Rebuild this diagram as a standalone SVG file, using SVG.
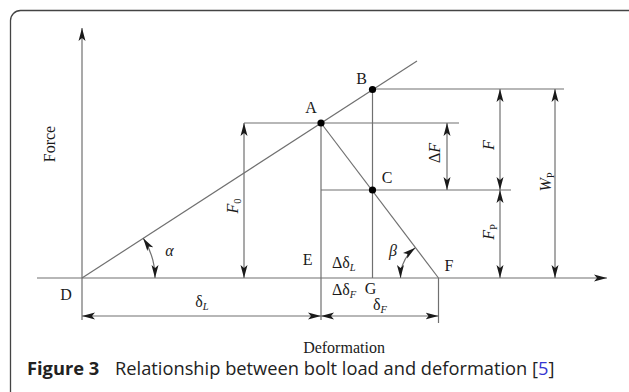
<svg xmlns="http://www.w3.org/2000/svg" width="629" height="392" viewBox="0 0 629 392">
<style>
.ln{stroke:#707070;stroke-width:1.2;fill:none}
.dim{stroke:#707070;stroke-width:1.2;fill:none;marker-start:url(#ah);marker-end:url(#ah)}
.t{font-family:"Liberation Serif","Times New Roman",serif;font-size:16px;fill:#1a1a1a}
.it{font-style:italic}
.ax{font-family:"Liberation Serif","Times New Roman",serif;font-size:16px;fill:#1a1a1a}
.cap{font-family:"Open Sans","Noto Sans",sans-serif;font-size:18.3px;fill:#222}
</style>
<defs>
<marker id="ah" viewBox="0 0 13 8" refX="13" refY="4" markerWidth="13" markerHeight="8" markerUnits="userSpaceOnUse" orient="auto-start-reverse">
<path d="M0,0.5 L13,4 L0,7.5 L3,4 Z" fill="#1a1a1a"/>
</marker>
<marker id="ae" viewBox="0 0 13 8" refX="13" refY="4" markerWidth="13" markerHeight="8" markerUnits="userSpaceOnUse" orient="auto">
<path d="M0,0.5 L13,4 L0,7.5 L3,4 Z" fill="#1a1a1a"/>
</marker>
</defs>
<rect x="10.5" y="10.5" width="628" height="400" rx="10" fill="#fff" stroke="#444" stroke-width="1.3"/>
<g id="connectors">
<line class="ln" x1="82" y1="320" x2="82" y2="28" marker-end="url(#ae)"/>
<line class="ln" x1="37" y1="278" x2="607" y2="278" marker-end="url(#ae)"/>
<line class="ln" x1="82" y1="278" x2="417" y2="61"/>
<line class="ln" x1="321" y1="123" x2="321" y2="320"/>
<line class="ln" x1="372.5" y1="89" x2="372.5" y2="278"/>
<line class="ln" x1="321" y1="123" x2="438.5" y2="278"/>
<line class="ln" x1="244" y1="123" x2="459" y2="123"/>
<line class="ln" x1="372.5" y1="89" x2="564" y2="89"/>
<line class="ln" x1="321" y1="190" x2="511" y2="190"/>
<line class="ln" x1="438.5" y1="278" x2="438.5" y2="323"/>
<line class="dim" x1="244" y1="123" x2="244" y2="278"/>
<line class="dim" x1="447" y1="123" x2="447" y2="190"/>
<line class="dim" x1="500" y1="89" x2="500" y2="190"/>
<line class="dim" x1="500" y1="190" x2="500" y2="278"/>
<line class="dim" x1="555" y1="89" x2="555" y2="278"/>
<line class="dim" x1="82" y1="316" x2="321" y2="316"/>
<line class="dim" x1="321" y1="316" x2="438.5" y2="316"/>
<path class="dim" d="M143.2,238.2 A73,73 0 0 1 155,278"/>
<path class="dim" d="M415.3,247.8 A38,38 0 0 0 400.5,278"/>
</g>
<g id="points" fill="#000">
<circle cx="321" cy="123" r="3.6"/>
<circle cx="372.5" cy="89.5" r="3.6"/>
<circle cx="372.5" cy="190" r="3.6"/>
</g>
<g id="node-A"><text class="t" x="311" y="113" text-anchor="middle">A</text></g>
<g id="node-B"><text class="t" x="361.7" y="84" text-anchor="middle">B</text></g>
<g id="node-C"><text class="t" x="387" y="183" text-anchor="middle">C</text></g>
<g id="node-D"><text class="t" x="66" y="300" text-anchor="middle">D</text></g>
<g id="node-E"><text class="t" x="307.7" y="265" text-anchor="middle">E</text></g>
<g id="node-F"><text class="t" x="449" y="270.5" text-anchor="middle">F</text></g>
<g id="node-G"><text class="t" x="370.5" y="294" text-anchor="middle">G</text></g>
<g id="labels">
<text class="ax" transform="translate(55,144) rotate(-90)" text-anchor="middle">Force</text>
<text class="ax" x="344" y="353" text-anchor="middle">Deformation</text>
<text class="t it" x="169.5" y="256" text-anchor="middle">α</text>
<text class="t it" x="393" y="256" text-anchor="middle">β</text>
<text class="t" transform="translate(238,206) rotate(-90)" text-anchor="middle"><tspan class="it">F</tspan><tspan font-size="10.5" dy="3">0</tspan></text>
<text class="t" transform="translate(440,153) rotate(-90)" text-anchor="middle">Δ<tspan class="it">F</tspan></text>
<text class="t" transform="translate(494,145) rotate(-90)" text-anchor="middle"><tspan class="it">F</tspan></text>
<text class="t" transform="translate(494,232) rotate(-90)" text-anchor="middle"><tspan class="it">F</tspan><tspan font-size="10.5" dy="3">P</tspan></text>
<text class="t" transform="translate(551,182) rotate(-90)" text-anchor="middle"><tspan class="it">W</tspan><tspan font-size="10.5" dy="3">P</tspan></text>
<text class="t" x="202" y="306.5" text-anchor="middle">δ<tspan class="it" font-size="10.5" dy="3">L</tspan></text>
<text class="t" x="380" y="309.5" text-anchor="middle">δ<tspan class="it" font-size="10.5" dy="3">F</tspan></text>
<text class="t" x="332" y="267.5">Δδ<tspan class="it" font-size="10.5" dy="3">L</tspan></text>
<text class="t" x="332" y="295">Δδ<tspan class="it" font-size="10.5" dy="3">F</tspan></text>
</g>
<g id="caption">
<text class="cap" x="27" y="375"><tspan font-weight="bold">Figure 3</tspan><tspan x="115">Relationship between bolt load and deformation [</tspan><tspan fill="#3535d0">5</tspan>]</text>
</g>
</svg>
